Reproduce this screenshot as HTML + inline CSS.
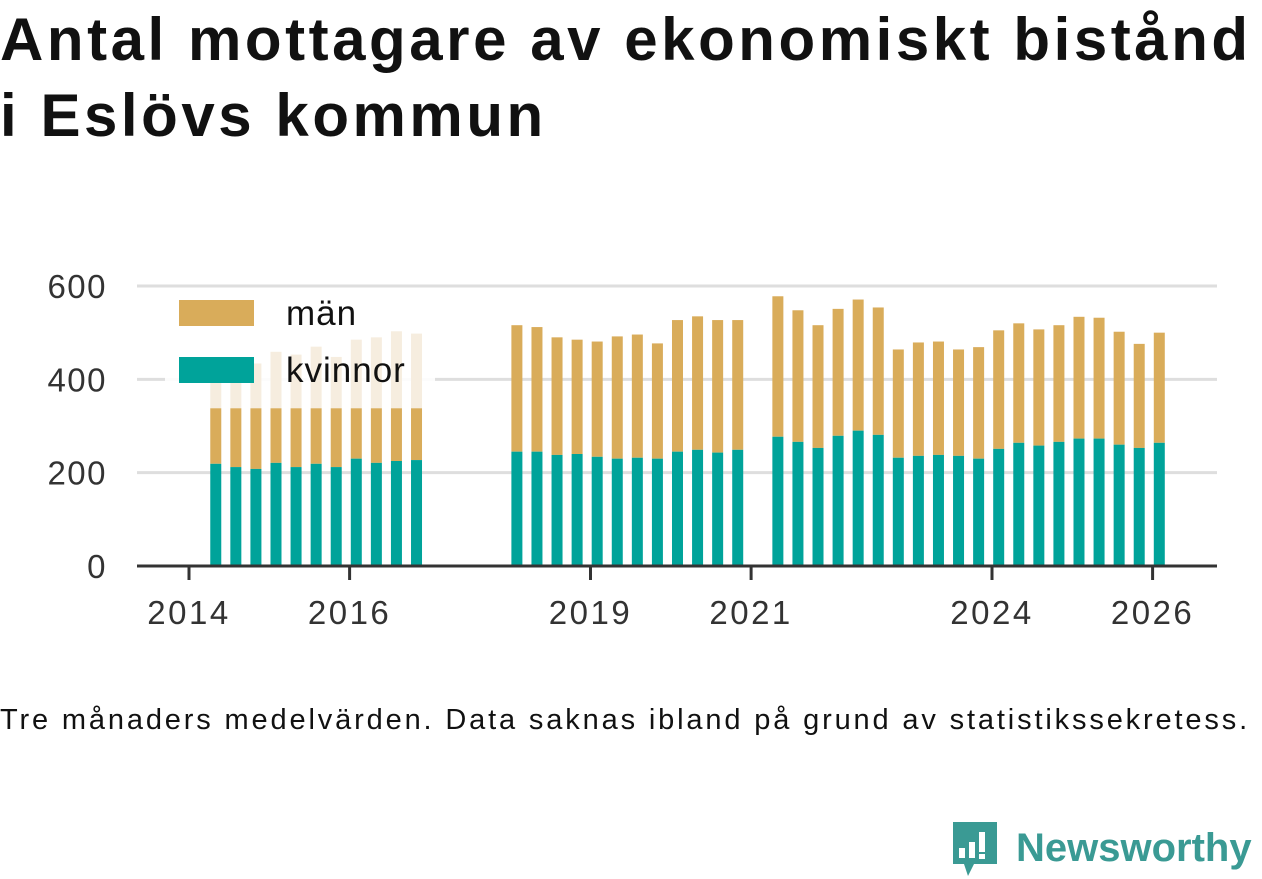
<!DOCTYPE html>
<html><head><meta charset="utf-8">
<style>
html,body{margin:0;padding:0;background:#fff;width:1262px;height:879px;overflow:hidden}
body{font-family:"Liberation Sans","DejaVu Sans",sans-serif;position:relative}
h1{position:absolute;left:0;top:2px;margin:0;font-size:60px;line-height:76px;font-weight:bold;color:#111;letter-spacing:3.55px;white-space:nowrap}
.foot{position:absolute;left:0;top:704px;font-size:29px;color:#111;white-space:nowrap;letter-spacing:2.85px}
.logo{position:absolute;left:950px;top:818px;display:flex;align-items:center}
.logo span{font-size:40px;font-weight:bold;color:#3a9a94;margin-left:16px}
</style></head><body>
<h1>Antal mottagare av ekonomiskt bistånd<br>i Eslövs kommun</h1>
<svg id="chart" width="1262" height="879" style="position:absolute;left:0;top:0"></svg>
<div class="foot">Tre månaders medelvärden. Data saknas ibland på grund av statistikssekretess.</div>
<div class="logo">
<svg width="50" height="60" viewBox="0 0 50 60"><path d="M3 4h44v42H24l-6 12-4-12H3z" fill="#3a9a94"/><rect x="9" y="30" width="6" height="10" fill="#fff"/><rect x="19" y="24" width="6" height="16" fill="#fff"/><rect x="29" y="14" width="6" height="20" fill="#fff"/><rect x="29" y="36" width="6" height="5" fill="#fff"/></svg>
<span>Newsworthy</span></div>
<script>
const periods=["2014-05","2014-08","2014-11","2015-02","2015-05","2015-08","2015-11","2016-02","2016-05","2016-08","2016-11",
"2018-02","2018-05","2018-08","2018-11","2019-02","2019-05","2019-08","2019-11","2020-02","2020-05","2020-08","2020-11",
"2021-05","2021-08","2021-11","2022-02","2022-05","2022-08","2022-11","2023-02","2023-05","2023-08","2023-11","2024-02","2024-05","2024-08","2024-11","2025-02","2025-05","2025-08","2025-11","2026-02"];
const kvinnor=[219,212,208,221,212,219,212,230,221,225,227,
245,245,238,240,234,230,232,230,245,249,243,249,
277,266,253,279,290,281,232,236,238,236,230,251,264,258,266,273,273,260,253,264];
const totals=[425,440,434,459,453,470,448,485,490,503,498,
516,512,490,485,481,492,496,477,527,535,527,527,
578,548,516,551,571,554,464,479,481,464,469,505,520,507,516,534,532,502,476,500];
const uncertainCap=[338,338,338,338,338,338,338,338,338,338,338];
const yTicks=[0,200,400,600];
const xTicks=[2014,2016,2019,2021,2024,2026];
const NS="http://www.w3.org/2000/svg";
const svg=document.getElementById('chart');
const X0=137,X1=1217,Y0=566;
function ys(v){return Y0-v*280/600;}
function xs(y){return 189+(y-2014)*80.3;}
function dec(p){const [a,b]=p.split('-').map(Number);return a+(b-1)/12;}
function mk(tag,attrs){const e=document.createElementNS(NS,tag);for(const k in attrs)e.setAttribute(k,attrs[k]);svg.appendChild(e);return e;}
yTicks.forEach(v=>{
  if(v>0){const g=mk('line',{x1:X0,x2:X1,y1:ys(v),y2:ys(v),stroke:'#dedede','stroke-width':3});
  
  }
  const t=mk('text',{x:107,y:ys(v)+12,'text-anchor':'end','font-size':33,fill:'#333','font-family':'Liberation Sans, sans-serif','letter-spacing':1.5});
  t.textContent=v;
  
  
});
const lb=mk('rect',{x:165,y:289,width:270,height:104,fill:'#fff','fill-opacity':0.9});


const bw=11;
periods.forEach((p,i)=>{
  const cx=xs(dec(p)),x=cx-bw/2;
  const k=kvinnor[i],tot=totals[i];
  const cap=i<uncertainCap.length?uncertainCap[i]:null;
  if(cap!==null){
    const f=mk('rect',{x:x,y:ys(tot),width:bw,height:ys(cap)-ys(tot),fill:'#f6eddf'});
    
    
  }
  const solidTop=cap!==null?Math.min(tot,cap):tot;
  const m=mk('rect',{x:x,y:ys(solidTop),width:bw,height:ys(k)-ys(solidTop),fill:'#d9ac5a'});
  
  
  const w=mk('rect',{x:x,y:ys(k),width:bw,height:Y0-ys(k),fill:'#00a39a'});
  
  
});
const ax=mk('line',{x1:X0,x2:X1,y1:Y0,y2:Y0,stroke:'#333','stroke-width':3});


xTicks.forEach(yr=>{
  const tk=mk('line',{x1:xs(yr),x2:xs(yr),y1:Y0,y2:Y0+14,stroke:'#333','stroke-width':3});
  
  
  const t=mk('text',{x:xs(yr),y:624,'text-anchor':'middle','font-size':33,fill:'#333','font-family':'Liberation Sans, sans-serif','letter-spacing':2.5});
  t.textContent=yr;
  
  
});
[['män','#d9ac5a',300],['kvinnor','#00a39a',357]].forEach(([n,c,y])=>{
  const s=mk('rect',{x:179,y:y,width:75,height:26,fill:c});
  
  
  const t=mk('text',{x:286,y:y+25,'font-size':35,fill:'#111','font-family':'Liberation Sans, sans-serif','letter-spacing':1});
  t.textContent=n;
  
  
});
</script>
</body></html>
